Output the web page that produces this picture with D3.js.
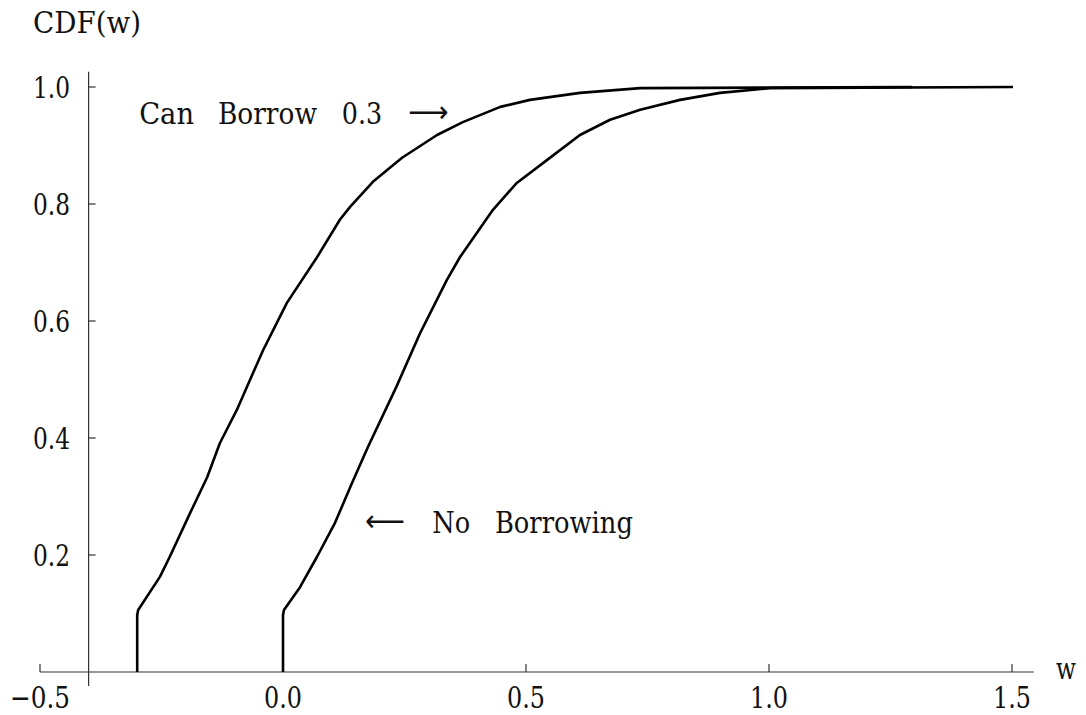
<!DOCTYPE html>
<html>
<head>
<meta charset="utf-8">
<script src="https://cdn.jsdelivr.net/npm/d3@7"></script>
<style>
  html, body { margin: 0; padding: 0; background: #fff; }
  svg { display: block; }
</style>
</head>
<body>
<svg id="chart" width="1086" height="715"></svg>
<script>
// ---- data ----
const canBorrowW   = [-0.30, -0.30, -0.298, -0.253, -0.233, -0.191, -0.156, -0.130, -0.095, -0.068, -0.041, 0.008, 0.070, 0.117, 0.138, 0.185, 0.245, 0.317, 0.370, 0.447, 0.508, 0.611, 0.735, 1.294];
const canBorrowCDF = [0.000, 0.097, 0.106, 0.163, 0.197, 0.272, 0.333, 0.391, 0.448, 0.499, 0.550, 0.631, 0.709, 0.773, 0.795, 0.838, 0.879, 0.918, 0.940, 0.966, 0.978, 0.990, 0.998, 1.000];

const noBorrowW    = [0.000, 0.000, 0.002, 0.035, 0.070, 0.107, 0.142, 0.175, 0.233, 0.282, 0.337, 0.364, 0.432, 0.481, 0.543, 0.611, 0.673, 0.735, 0.817, 0.899, 1.002, 1.502];
const noBorrowCDF  = [0.000, 0.097, 0.106, 0.145, 0.197, 0.255, 0.323, 0.385, 0.487, 0.579, 0.670, 0.709, 0.790, 0.836, 0.875, 0.918, 0.944, 0.961, 0.978, 0.990, 0.998, 1.000];

const xTicks = [-0.5, 0.0, 0.5, 1.0, 1.5];
const xTickLabels = ["\u22120.5", "0.0", "0.5", "1.0", "1.5"];
const yTicks = [0.2, 0.4, 0.6, 0.8, 1.0];
const yTickLabels = ["0.2", "0.4", "0.6", "0.8", "1.0"];

const yAxisTitle = "CDF(w)";
const xAxisTitle = "w";

// annotation words: [text, startW, endW], baseline CDF value
const labelCanBorrow = [["Can", -0.296, -0.183], ["Borrow", -0.134, 0.070], ["0.3", 0.121, 0.204], ["\u27F6", 0.257, 0.340]];
const labelCanBorrowY = 0.937;
const labelNoBorrow = [["\u27F5", 0.169, 0.251], ["No", 0.307, 0.385], ["Borrowing", 0.436, 0.720]];
const labelNoBorrowY = 0.238;

// ---- layout ----
const svg = d3.select("#chart");
const x = d3.scaleLinear().domain([0, 1]).range([283, 769]);
const y = d3.scaleLinear().domain([0, 1]).range([672, 87]);

const axisColor = "#333";
const FS = 30;
const SERIF = "'DejaVu Serif', 'Liberation Serif', serif";
const textColor = "#111";

function txt(sel) {
  return sel.attr("font-family", SERIF).attr("font-size", FS).attr("fill", textColor);
}

// x axis line
svg.append("line")
  .attr("x1", x(-0.5)).attr("x2", x(1.545))
  .attr("y1", y(0)).attr("y2", y(0))
  .attr("stroke", axisColor).attr("stroke-width", 1.2);
// y axis line (at w = -0.4)
svg.append("line")
  .attr("x1", x(-0.4)).attr("x2", x(-0.4))
  .attr("y1", y(-0.024)).attr("y2", y(1.026))
  .attr("stroke", axisColor).attr("stroke-width", 1.2);

// x ticks
svg.selectAll(".xt").data(xTicks).enter().append("line")
  .attr("x1", d => x(d)).attr("x2", d => x(d))
  .attr("y1", y(0)).attr("y2", y(0) - 8)
  .attr("stroke", axisColor).attr("stroke-width", 1.2);
txt(svg.selectAll(".xl").data(xTicks).enter().append("text"))
  .attr("x", d => x(d)).attr("y", 708)
  .attr("text-anchor", "middle")
  .attr("textLength", (d, i) => i === 0 ? 60 : 38)
  .attr("lengthAdjust", "spacingAndGlyphs")
  .text((d, i) => xTickLabels[i]);

// y ticks
svg.selectAll(".yt").data(yTicks).enter().append("line")
  .attr("x1", x(-0.4)).attr("x2", x(-0.4) + 7)
  .attr("y1", d => y(d)).attr("y2", d => y(d))
  .attr("stroke", axisColor).attr("stroke-width", 1.2);
txt(svg.selectAll(".yl").data(yTicks).enter().append("text"))
  .attr("x", 70).attr("y", d => y(d)).attr("dy", "0.36em")
  .attr("text-anchor", "end")
  .attr("textLength", 37)
  .attr("lengthAdjust", "spacingAndGlyphs")
  .text((d, i) => yTickLabels[i]);

// axis titles
txt(svg.append("text")).attr("x", 33).attr("y", 33)
  .attr("textLength", 108).attr("lengthAdjust", "spacingAndGlyphs").text(yAxisTitle);
txt(svg.append("text")).attr("x", 1056).attr("y", 679)
  .attr("textLength", 20).attr("lengthAdjust", "spacingAndGlyphs").text(xAxisTitle);

// curves
const line = d3.line().x(d => x(d[0])).y(d => y(d[1])).curve(d3.curveLinear);
const s1 = d3.zip(canBorrowW, canBorrowCDF);
const s2 = d3.zip(noBorrowW, noBorrowCDF);
[s1, s2].forEach(s => {
  svg.append("path").datum(s)
    .attr("d", line)
    .attr("fill", "none")
    .attr("stroke", "#000")
    .attr("stroke-width", 2.6)
    .attr("stroke-linejoin", "round");
});

// annotations
function words(list, yv) {
  list.forEach(([t, a, b]) => {
    const isArrow = t === "\u27F6" || t === "\u27F5";
    const el = txt(svg.append("text"))
      .attr("x", x(a)).attr("y", y(yv))
      .attr("textLength", x(b) - x(a))
      .attr("lengthAdjust", "spacingAndGlyphs")
      .text(t);
    if (isArrow) el.attr("font-family", "'DejaVu Sans', sans-serif").attr("dy", "-0.05em");
  });
}
words(labelCanBorrow, labelCanBorrowY);
words(labelNoBorrow, labelNoBorrowY);
</script>
</body>
</html>
